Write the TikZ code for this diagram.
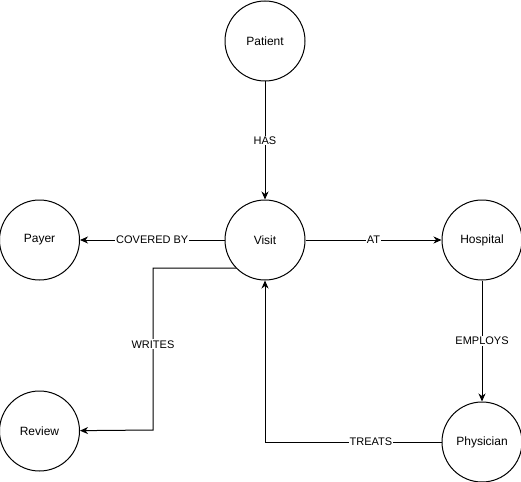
\documentclass[tikz,border=0pt]{standalone}
\usepackage{fontspec}
\setmainfont{Liberation Sans}
\usetikzlibrary{arrows.meta, positioning}

\tikzset{
    entity/.style={draw, circle, line width=1pt, minimum size=80pt, inner sep=0pt,
        font=\fontsize{12}{14}\selectfont},
    rel/.style={line width=1pt, -{Stealth[length=8pt, width=7pt, inset=2.5pt]}},
    lbl/.style={fill=white, inner sep=1pt, font=\fontsize{11}{13}\selectfont}
}

\begin{document}
\begin{tikzpicture}[x=1pt, y=-1pt]
        \useasboundingbox (0,0) rectangle (521,481);

        \node[entity] (visit) at (265,240) {Visit};
        \node[entity, above=118pt of visit]  (patient)   {Patient};
        \node[entity, left=144.5pt of visit] (payer)     {Payer};
        \node[entity, right=136pt of visit]  (hospital)  {Hospital};
        \node[entity, below=121pt of hospital] (physician) {Physician};
        \node[entity, below=110pt of payer]  (review)    {Review};

        \coordinate (writesbend) at (153,430);

        \draw[rel] (patient) -- node[lbl] {HAS} (visit);
        \draw[rel] (visit) -- node[lbl] {COVERED BY} (payer);
        \draw[rel] (visit) -- node[lbl] {AT} (hospital);
        \draw[rel] (hospital) -- node[lbl] {EMPLOYS} (physician);
        \draw[rel] (physician) -| node[lbl, pos=0.2] {TREATS} (visit);
        \draw[rel] (visit.224) -| node[lbl, pos=0.735] {WRITES} (writesbend) -- (review);
\end{tikzpicture}
\end{document}
